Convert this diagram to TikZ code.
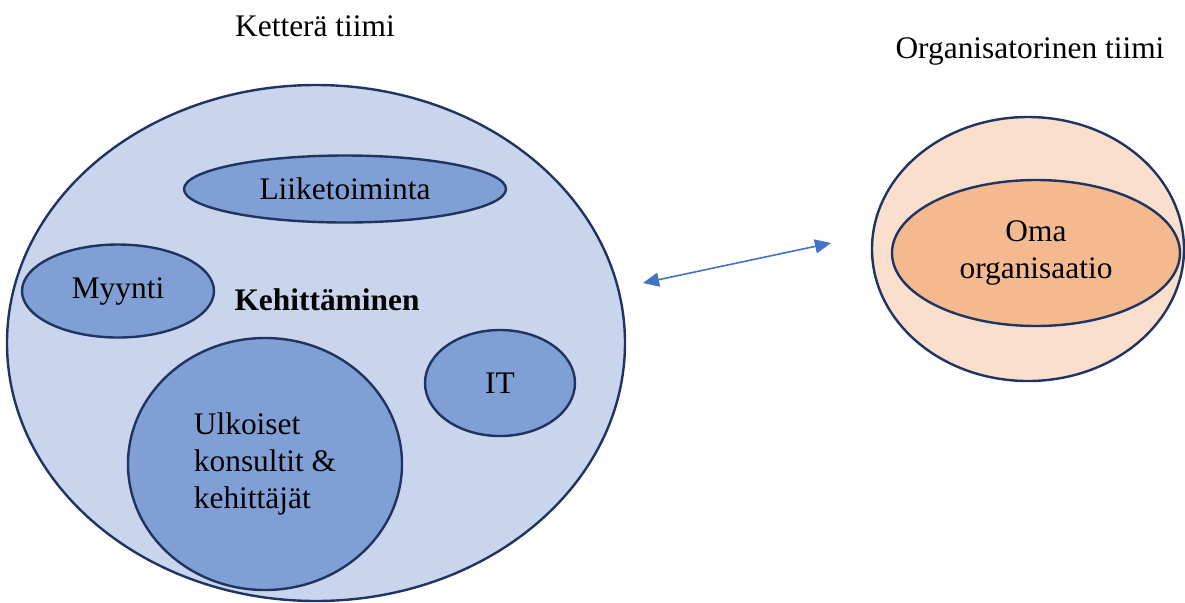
\documentclass[tikz,border=0pt]{standalone}
\usepackage{fontspec}
\setmainfont{Liberation Serif}
\usetikzlibrary{shapes.geometric,arrows.meta}
\definecolor{agileback}{HTML}{C9D5EC}
\definecolor{agilepart}{HTML}{7F9FD5}
\definecolor{rimblue}{HTML}{1F3460}
\definecolor{orgback}{HTML}{FADFCD}
\definecolor{orgpart}{HTML}{F5B98F}
\definecolor{arrowblue}{HTML}{4472C4}

\begin{document}
\begin{tikzpicture}[x=0.5pt,y=-0.5pt,
  font=\fontsize{15.7}{18.6}\selectfont,
  team/.style={ellipse,draw=rimblue,line width=1.2pt,inner sep=0pt},
  part/.style={team,fill=agilepart},
  org/.style={team,fill=orgpart}]
\useasboundingbox (0,0) rectangle (1185,602);
% ketteraa tiimi (sizes in pt = half of px)
\node[team,fill=agileback,minimum width=309pt,minimum height=258pt]   (agile)  at (316,343)  {};
\node[part,minimum width=161pt,minimum height=33.5pt]    (liike) at (345,189)  {Liiketoiminta};
\node[part,minimum width=96pt,minimum height=46.5pt]    (myynti) at (118,291)  {Myynti};
\node[part,minimum width=137pt,minimum height=126pt,align=left]  (ulko) at (265,464)
     {Ulkoiset\\konsultit \&\\kehittäjät};
\node[part,minimum width=75pt,minimum height=53pt]   (it) at (500,383)  {IT};
\node[font=\fontsize{15.7}{18.6}\selectfont\bfseries] (kehit) at (327,300) {Kehittäminen};
\node (ketlabel) at (315,26) {Ketterä tiimi};

% organisatorinen tiimi
\node[team,fill=orgback,minimum width=156pt,minimum height=132pt]   (orgteam) at (1028,249) {};
\node[org,minimum width=144pt,minimum height=73pt,align=center]    (oma) at (1036,253) {Oma\\organisaatio};
\node (orglabel) at (1030,51) {Organisatorinen tiimi};

\coordinate (left end) at (643,283);
\coordinate (right end) at (831,243);
\draw[arrowblue,line width=0.8pt,{Triangle[length=8pt,width=7pt]}-{Triangle[length=8pt,width=7pt]}]
  (left end) -- (right end);
\end{tikzpicture}
\end{document}
